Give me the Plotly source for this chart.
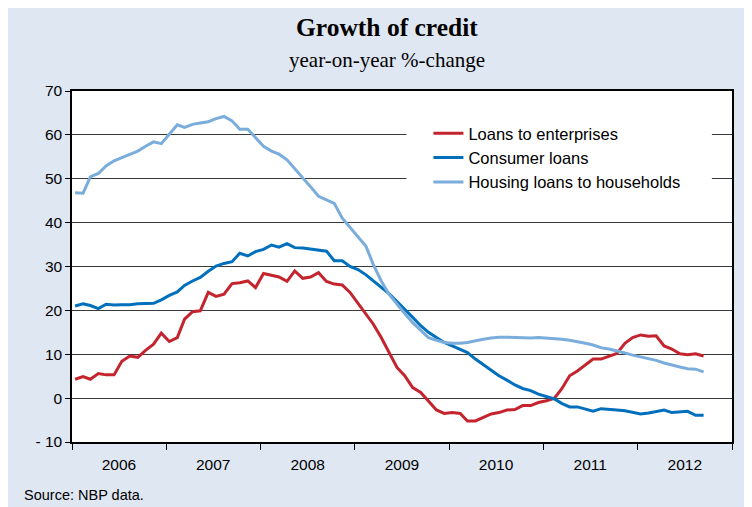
import pandas as pd
import plotly.graph_objects as go

# Monthly observations, Jan 2006 - Sep 2012
months = pd.date_range("2006-01-01", periods=81, freq="MS")

enterprises = [
    4.3, 4.9, 4.3, 5.6, 5.3, 5.3, 8.4, 9.6, 9.3, 10.9, 12.3, 14.8,
    12.9, 13.8, 18.0, 19.7, 19.9, 24.1, 23.2, 23.7, 26.1, 26.3, 26.7, 25.2,
    28.4, 28.0, 27.6, 26.6, 29.0, 27.3, 27.6, 28.6, 26.6, 26.0, 25.8, 24.1,
    21.6, 19.3, 16.9, 13.8, 10.4, 7.0, 5.1, 2.4, 1.3, -0.6, -2.7, -3.5,
    -3.3, -3.5, -5.2, -5.2, -4.4, -3.6, -3.3, -2.7, -2.6, -1.7, -1.7, -1.0,
    -0.6, 0.0, 2.1, 5.1, 6.2, 7.6, 8.9, 8.9, 9.6, 10.2, 12.5, 13.8,
    14.4, 14.1, 14.2, 11.9, 11.2, 10.1, 9.9, 10.1, 9.6,
]
consumer = [
    21.0, 21.5, 21.1, 20.4, 21.4, 21.2, 21.3, 21.3, 21.5, 21.5, 21.6, 22.4,
    23.4, 24.2, 25.7, 26.7, 27.5, 28.9, 30.1, 30.7, 31.1, 33.0, 32.4, 33.4,
    33.9, 34.9, 34.4, 35.2, 34.3, 34.2, 34.0, 33.8, 33.5, 31.3, 31.3, 30.0,
    29.3, 28.1, 26.8, 25.4, 23.8, 22.0, 20.3, 18.4, 16.5, 15.0, 13.8, 12.7,
    11.9, 11.2, 10.4, 8.9, 7.6, 6.2, 5.1, 4.1, 3.0, 2.2, 1.7, 0.9,
    0.3, -0.2, -1.2, -2.0, -2.0, -2.5, -3.0, -2.4, -2.5, -2.7, -2.9, -3.3,
    -3.6, -3.4, -3.1, -2.7, -3.3, -3.1, -3.0, -3.9, -3.9,
]
housing = [
    46.8, 46.7, 50.4, 51.2, 52.9, 54.1, 54.8, 55.6, 56.3, 57.4, 58.4, 58.0,
    60.1, 62.3, 61.7, 62.4, 62.7, 63.0, 63.7, 64.2, 63.2, 61.3, 61.3, 59.3,
    57.4, 56.3, 55.6, 54.3, 52.2, 50.2, 48.2, 46.0, 45.2, 44.4, 41.0, 38.9,
    36.7, 34.6, 30.5, 26.7, 23.7, 21.4, 19.3, 17.2, 15.5, 13.8, 13.2, 12.7,
    12.5, 12.5, 12.7, 13.1, 13.4, 13.7, 13.9, 13.9, 13.8, 13.7, 13.7, 13.8,
    13.7, 13.5, 13.4, 13.2, 12.9, 12.5, 12.1, 11.5, 11.2, 10.8, 10.3, 9.8,
    9.4, 9.1, 8.6, 8.0, 7.5, 7.1, 6.7, 6.6, 6.0,
]

series_names = ["Loans to enterprises", "Consumer loans", "Housing loans to households"]
series_colors = ["#c3242e", "#0070bd", "#7aaddb"]

years = [2006, 2007, 2008, 2009, 2010, 2011, 2012]
year_labels = [str(y) for y in years]
y_ticks = [-10, 0, 10, 20, 30, 40, 50, 60, 70]
y_labels = ["- 10", "0", "10", "20", "30", "40", "50", "60", "70"]

x = months + pd.Timedelta(days=12)

fig = go.Figure()
for name, vals, col in zip(series_names, [enterprises, consumer, housing], series_colors):
    fig.add_trace(go.Scatter(x=x, y=vals, mode="lines", name=name, legendgroup=name,
                             line=dict(color=col, width=3)))

SANS = "Liberation Sans, Arial, sans-serif"
SERIF = "Liberation Serif, Times New Roman, serif"
PANEL = "#dfe7f3"

fig.update_layout(
    width=744, height=499,
    margin=dict(l=64, r=20, t=83, b=65),
    paper_bgcolor=PANEL,
    plot_bgcolor="white",
    showlegend=True,
    legend=dict(x=0.540, y=0.929, xanchor="left", yanchor="top",
                bgcolor="rgba(0,0,0,0)", font=dict(family=SANS, size=16.5, color="black"),
                tracegroupgap=0, itemwidth=30),
    xaxis=dict(
        type="date",
        range=["2006-01-01", "2013-01-01"],
        tickvals=[f"{y}-07-02" for y in years], ticktext=year_labels,
        ticks="", showgrid=False, zeroline=False,
        showline=True, linecolor="black", linewidth=1.5, mirror=True,
        tickfont=dict(family=SANS, size=15.5, color="black"),
        ticklabelstandoff=8,
        minor=dict(tickvals=[f"{y}-01-01" for y in years + [2013]], ticks="outside",
                   ticklen=6, tickwidth=1.2, tickcolor="black", showgrid=False),
    ),
    yaxis=dict(
        range=[-10, 70], tickvals=y_ticks, ticktext=y_labels,
        ticks="outside", ticklen=5, tickwidth=1.2, tickcolor="black",
        showgrid=True, gridcolor="#3a3a3a", gridwidth=1,
        zeroline=False,
        showline=True, linecolor="black", linewidth=1.5, mirror=True,
        tickfont=dict(family=SANS, size=15.5, color="black"),
    ),
    shapes=[
        dict(type="rect", xref="x", yref="y", x0="2009-07-20", x1="2012-10-15", y0=46.0, y1=63.8,
             fillcolor="white", line=dict(width=0), layer="above"),
    ],
    annotations=[
        dict(text="<b>Growth of credit</b>", xref="paper", yref="paper", x=0.477, y=1.182,
             xanchor="center", yanchor="middle", showarrow=False,
             font=dict(family=SERIF, size=25.5, color="black")),
        dict(text="year-on-year %-change", xref="paper", yref="paper", x=0.477, y=1.088,
             xanchor="center", yanchor="middle", showarrow=False,
             font=dict(family=SERIF, size=21, color="black")),
        dict(text="Source: NBP data.", xref="paper", yref="paper", x=-0.0758, y=-0.151,
             xanchor="left", yanchor="middle", showarrow=False,
             font=dict(family=SANS, size=14.5, color="black")),
    ],
)

fig.write_html("out.html")
